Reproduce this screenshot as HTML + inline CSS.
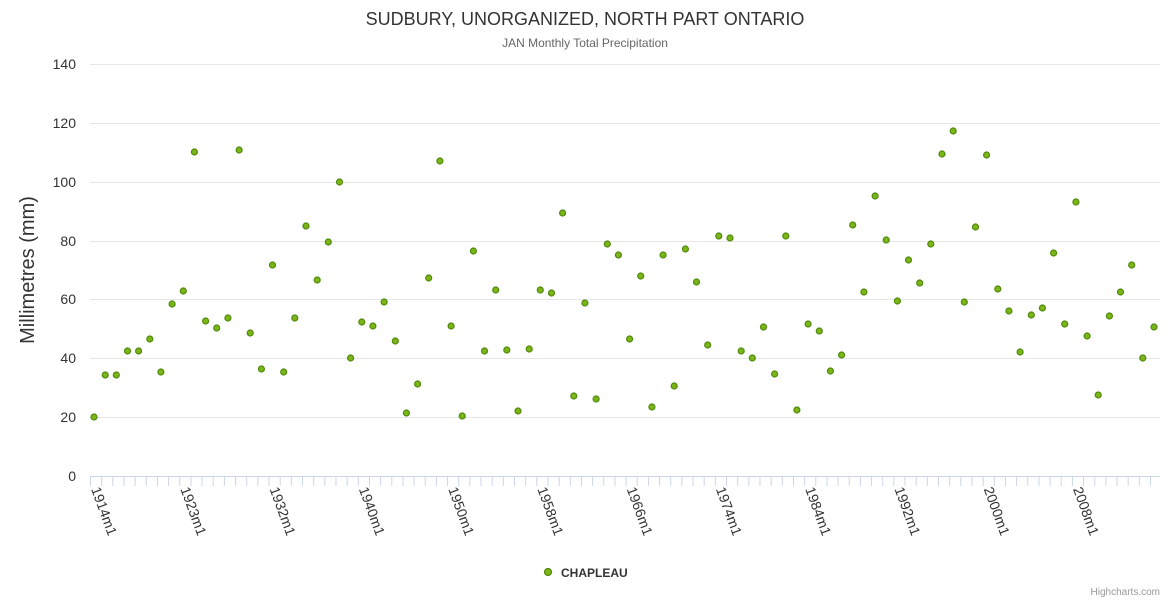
<!DOCTYPE html>
<html><head><meta charset="utf-8"><style>body{margin:0;background:#fff}svg{font-family:"Liberation Sans",sans-serif;display:block}</style></head><body>
<svg width="1170" height="600" xmlns="http://www.w3.org/2000/svg">
<rect width="1170" height="600" fill="#fff"/>
<text x="585" y="25" text-anchor="middle" font-size="18" fill="#333">SUDBURY, UNORGANIZED, NORTH PART ONTARIO</text>
<text x="585" y="47" text-anchor="middle" font-size="12" fill="#666">JAN Monthly Total Precipitation</text>
<g stroke="#e6e6e6" stroke-width="1">
<line x1="90" x2="1160" y1="64.5" y2="64.5"/><line x1="90" x2="1160" y1="123.5" y2="123.5"/><line x1="90" x2="1160" y1="182.5" y2="182.5"/><line x1="90" x2="1160" y1="241.5" y2="241.5"/><line x1="90" x2="1160" y1="299.5" y2="299.5"/><line x1="90" x2="1160" y1="358.5" y2="358.5"/><line x1="90" x2="1160" y1="417.5" y2="417.5"/>
</g>
<line x1="90" x2="1160" y1="476.5" y2="476.5" stroke="#ccd6eb"/>
<line x1="90" x2="1160" y1="481" y2="481" stroke="#ccd6eb" stroke-width="10" stroke-dasharray="1 10.158"/>
<g font-size="14" fill="#333" text-anchor="end">
<text x="76" y="69">140</text><text x="76" y="128">120</text><text x="76" y="187">100</text><text x="76" y="246">80</text><text x="76" y="304">60</text><text x="76" y="363">40</text><text x="76" y="422">20</text><text x="76" y="481">0</text>
</g>
<text transform="translate(34,270) rotate(-90)" text-anchor="middle" font-size="20" fill="#333">Millimetres (mm)</text>
<g font-size="14" fill="#333">
<text transform="translate(91,489) rotate(70)">1914m1</text>
<text transform="translate(180.3,489) rotate(70)">1923m1</text>
<text transform="translate(269.5,489) rotate(70)">1932m1</text>
<text transform="translate(358.8,489) rotate(70)">1940m1</text>
<text transform="translate(448.1,489) rotate(70)">1950m1</text>
<text transform="translate(537.3,489) rotate(70)">1958m1</text>
<text transform="translate(626.6,489) rotate(70)">1966m1</text>
<text transform="translate(715.8,489) rotate(70)">1974m1</text>
<text transform="translate(805.1,489) rotate(70)">1984m1</text>
<text transform="translate(894.4,489) rotate(70)">1992m1</text>
<text transform="translate(983.6,489) rotate(70)">2000m1</text>
<text transform="translate(1072.9,489) rotate(70)">2008m1</text>
</g>
<g fill="#7cb518" stroke="#4f8a0b" stroke-width="1.2">
<circle cx="94.0" cy="417" r="3"/><circle cx="105.2" cy="375" r="3"/><circle cx="116.3" cy="375" r="3"/><circle cx="127.5" cy="351" r="3"/><circle cx="138.6" cy="351" r="3"/><circle cx="149.8" cy="339" r="3"/><circle cx="160.9" cy="372" r="3"/><circle cx="172.1" cy="304" r="3"/><circle cx="183.3" cy="291" r="3"/><circle cx="194.4" cy="152" r="3"/>
<circle cx="205.6" cy="321" r="3"/><circle cx="216.7" cy="328" r="3"/><circle cx="227.9" cy="318" r="3"/><circle cx="239.1" cy="150" r="3"/><circle cx="250.2" cy="333" r="3"/><circle cx="261.4" cy="369" r="3"/><circle cx="272.5" cy="265" r="3"/><circle cx="283.7" cy="372" r="3"/><circle cx="294.8" cy="318" r="3"/><circle cx="306.0" cy="226" r="3"/>
<circle cx="317.2" cy="280" r="3"/><circle cx="328.3" cy="242" r="3"/><circle cx="339.5" cy="182" r="3"/><circle cx="350.6" cy="358" r="3"/><circle cx="361.8" cy="322" r="3"/><circle cx="372.9" cy="326" r="3"/><circle cx="384.1" cy="302" r="3"/><circle cx="395.3" cy="341" r="3"/><circle cx="406.4" cy="413" r="3"/><circle cx="417.6" cy="384" r="3"/>
<circle cx="428.7" cy="278" r="3"/><circle cx="439.9" cy="161" r="3"/><circle cx="451.1" cy="326" r="3"/><circle cx="462.2" cy="416" r="3"/><circle cx="473.4" cy="251" r="3"/><circle cx="484.5" cy="351" r="3"/><circle cx="495.7" cy="290" r="3"/><circle cx="506.8" cy="350" r="3"/><circle cx="518.0" cy="411" r="3"/><circle cx="529.2" cy="349" r="3"/>
<circle cx="540.3" cy="290" r="3"/><circle cx="551.5" cy="293" r="3"/><circle cx="562.6" cy="213" r="3"/><circle cx="573.8" cy="396" r="3"/><circle cx="584.9" cy="303" r="3"/><circle cx="596.1" cy="399" r="3"/><circle cx="607.3" cy="244" r="3"/><circle cx="618.4" cy="255" r="3"/><circle cx="629.6" cy="339" r="3"/><circle cx="640.7" cy="276" r="3"/>
<circle cx="651.9" cy="407" r="3"/><circle cx="663.1" cy="255" r="3"/><circle cx="674.2" cy="386" r="3"/><circle cx="685.4" cy="249" r="3"/><circle cx="696.5" cy="282" r="3"/><circle cx="707.7" cy="345" r="3"/><circle cx="718.8" cy="236" r="3"/><circle cx="730.0" cy="238" r="3"/><circle cx="741.2" cy="351" r="3"/><circle cx="752.3" cy="358" r="3"/>
<circle cx="763.5" cy="327" r="3"/><circle cx="774.6" cy="374" r="3"/><circle cx="785.8" cy="236" r="3"/><circle cx="796.9" cy="410" r="3"/><circle cx="808.1" cy="324" r="3"/><circle cx="819.3" cy="331" r="3"/><circle cx="830.4" cy="371" r="3"/><circle cx="841.6" cy="355" r="3"/><circle cx="852.7" cy="225" r="3"/><circle cx="863.9" cy="292" r="3"/>
<circle cx="875.1" cy="196" r="3"/><circle cx="886.2" cy="240" r="3"/><circle cx="897.4" cy="301" r="3"/><circle cx="908.5" cy="260" r="3"/><circle cx="919.7" cy="283" r="3"/><circle cx="930.8" cy="244" r="3"/><circle cx="942.0" cy="154" r="3"/><circle cx="953.2" cy="131" r="3"/><circle cx="964.3" cy="302" r="3"/><circle cx="975.5" cy="227" r="3"/>
<circle cx="986.6" cy="155" r="3"/><circle cx="997.8" cy="289" r="3"/><circle cx="1008.9" cy="311" r="3"/><circle cx="1020.1" cy="352" r="3"/><circle cx="1031.3" cy="315" r="3"/><circle cx="1042.4" cy="308" r="3"/><circle cx="1053.6" cy="253" r="3"/><circle cx="1064.7" cy="324" r="3"/><circle cx="1075.9" cy="202" r="3"/><circle cx="1087.1" cy="336" r="3"/>
<circle cx="1098.2" cy="395" r="3"/><circle cx="1109.4" cy="316" r="3"/><circle cx="1120.5" cy="292" r="3"/><circle cx="1131.7" cy="265" r="3"/><circle cx="1142.8" cy="358" r="3"/><circle cx="1154.0" cy="327" r="3"/>
</g>
<circle cx="548" cy="572" r="3.5" fill="#7cb518" stroke="#4f8a0b" stroke-width="1.2"/>
<text x="561" y="577" font-size="12" font-weight="bold" fill="#333">CHAPLEAU</text>
<text x="1160" y="595" text-anchor="end" font-size="10" fill="#999">Highcharts.com</text>
</svg>
</body></html>
